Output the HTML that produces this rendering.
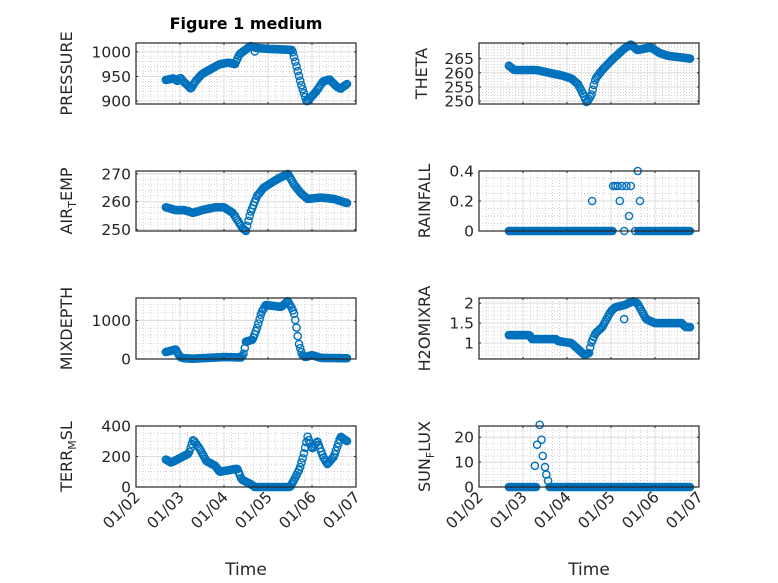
<!DOCTYPE html>
<html><head><meta charset="utf-8"><style>
html,body{margin:0;padding:0;background:#fff;}
svg{display:block;font-family:"DejaVu Sans","Liberation Sans",sans-serif;}
</style></head><body>
<svg id="s" width="778" height="583" xmlns="http://www.w3.org/2000/svg"></svg>
<script>
const S=document.getElementById('s');let h='';
const T='#262626';
function lin(k,x){for(let i=0;i<k.length-1;i++){if(x>=k[i][0]&&x<=k[i+1][0]){const t=(x-k[i][0])/(k[i+1][0]-k[i][0]);return k[i][1]+t*(k[i+1][1]-k[i][1]);}}return null;}
function plot(o){
 const L=o.x,R=o.x+220,Tp=o.y,B=o.y+(o.h||61),W=R-L,H=B-Tp;
 const sx=d=>L+d/5*W, sy=v=>B-(v-o.lo)/(o.hi-o.lo)*H;
 for(let d=0;d<5;d++)for(let j=1;j<6;j++){const X=sx(d+j/6);h+=`<line x1="${X}" y1="${Tp}" x2="${X}" y2="${B}" stroke="#c0c0c0" stroke-width="0.7" stroke-dasharray="1,2"/>`;}
 const ms=o.minor;for(let v=Math.ceil(o.lo/ms)*ms;v<o.hi;v+=ms){const Y=sy(v);h+=`<line x1="${L}" y1="${Y}" x2="${R}" y2="${Y}" stroke="#c0c0c0" stroke-width="0.7" stroke-dasharray="1,2"/>`;}
 for(let d=1;d<5;d++){const X=sx(d);h+=`<line x1="${X}" y1="${Tp}" x2="${X}" y2="${B}" stroke="#dcdcdc" stroke-width="1"/>`;}
 o.ticks.forEach(v=>{const Y=sy(v);h+=`<line x1="${L}" y1="${Y}" x2="${R}" y2="${Y}" stroke="#dcdcdc" stroke-width="1"/>`;});
 let pts=[];
 if(o.k){for(let d=0.68;d<=4.8;d+=0.028){const v=lin(o.k,d);if(v!==null)pts.push([d,v]);}}
 if(o.extra)pts=pts.concat(o.extra);
 pts.forEach(p=>{h+=`<circle cx="${sx(p[0]).toFixed(1)}" cy="${sy(p[1]).toFixed(1)}" r="3.6" fill="none" stroke="#0072BD" stroke-width="1.4"/>`;});
 h+=`<rect x="${L}" y="${Tp}" width="${W}" height="${H}" fill="none" stroke="${T}" stroke-width="1.2"/>`;
 for(let d=1;d<5;d++){const X=sx(d);h+=`<line x1="${X}" y1="${B}" x2="${X}" y2="${B-2}" stroke="${T}"/><line x1="${X}" y1="${Tp}" x2="${X}" y2="${Tp+2}" stroke="${T}"/>`;}
 o.ticks.forEach((v,i)=>{const Y=sy(v);h+=`<line x1="${L}" y1="${Y}" x2="${L+2}" y2="${Y}" stroke="${T}"/><line x1="${R}" y1="${Y}" x2="${R-2}" y2="${Y}" stroke="${T}"/>`;
  h+=`<text x="${L-5}" y="${Y+5.5}" font-size="15.5" fill="${T}" text-anchor="end">${o.tl?o.tl[i]:v}</text>`;});
 h+=`<text transform="translate(${o.lx},${(Tp+B)/2}) rotate(-90)" font-size="16" fill="${T}" text-anchor="middle">${o.label}</text>`;
 if(o.xl){const labs=['01/02','01/03','01/04','01/05','01/06','01/07'];labs.forEach((s,i)=>{const X=sx(i);h+=`<text transform="translate(${X+5},${B+11}) rotate(-45)" font-size="15.5" fill="${T}" text-anchor="end">${s}</text>`;});
  h+=`<text x="${(L+R)/2}" y="${B+88}" font-size="17" fill="${T}" text-anchor="middle">Time</text>`;}
}
const sub=(a,b,c)=>`${a}<tspan font-size="11" dy="4">${b}</tspan><tspan dy="-4">${c}</tspan>`;
const LX=136,RX=479,Y1=43,Y2=171,Y3=298,Y4=426;
plot({x:LX,y:Y1,lo:894,hi:1018,ticks:[900,950,1000],minor:10,label:'PRESSURE',lx:72,
k:[[0.68,943],[0.85,946],[0.95,940],[1.0,948],[1.1,938],[1.25,925],[1.35,940],[1.5,955],[1.7,965],[1.9,975],[2.1,978],[2.25,975],[2.35,995],[2.5,1005],[2.6,1012],[2.75,1008],[3.0,1006],[3.3,1005],[3.55,1004],[3.65,970],[3.75,935],[3.88,898],[4.0,910],[4.1,920],[4.25,940],[4.4,944],[4.55,930],[4.65,925],[4.8,935]],extra:[[2.7,1001]]});
plot({x:LX,y:Y2,h:60,lo:249.5,hi:271,ticks:[250,260,270],minor:2,label:sub('AIR','T','EMP'),lx:72,
k:[[0.68,258],[0.9,257],[1.1,257],[1.3,256],[1.5,257],[1.8,258],[2.0,258],[2.2,256],[2.32,253],[2.42,250.5],[2.5,249.5],[2.6,256],[2.75,262],[2.9,265],[3.2,268],[3.45,270],[3.6,266],[3.75,263],[3.9,261],[4.2,261.5],[4.5,261],[4.8,259.5]]});
plot({x:LX,y:Y3,lo:0,hi:1580,ticks:[0,1000],minor:200,label:'MIXDEPTH',lx:72,
k:[[0.68,180],[0.9,250],[1.0,50],[1.1,20],[1.3,10],[2.0,50],[2.4,40],[2.45,150],[2.5,450],[2.65,500],[2.75,800],[2.85,1200],[2.95,1400],[3.3,1350],[3.45,1500],[3.55,1300],[3.6,1150],[3.65,800],[3.7,400],[3.78,100],[3.85,50],[4.0,100],[4.2,30],[4.8,20]]});
plot({x:LX,y:Y4,lo:0,hi:400,ticks:[0,200,400],minor:50,label:sub('TERR','M','SL'),lx:72,xl:true,
k:[[0.68,180],[0.8,160],[1.0,190],[1.2,220],[1.3,310],[1.45,250],[1.6,170],[1.8,140],[1.9,100],[2.1,110],[2.3,120],[2.4,50],[2.6,20],[2.7,0],[3.5,0],[3.6,50],[3.72,120],[3.8,200],[3.9,330],[4.0,250],[4.12,300],[4.25,200],[4.35,150],[4.5,200],[4.65,330],[4.8,300]]});
plot({x:RX,y:Y1,lo:249,hi:270.5,ticks:[250,255,260,265],minor:1,label:'THETA',lx:427,
k:[[0.68,262.5],[0.8,261],[1.0,261],[1.3,261],[1.6,260],[1.9,259],[2.1,258],[2.25,256],[2.35,253],[2.45,249.5],[2.55,252],[2.65,258],[2.8,261],[3.05,265],[3.3,268.5],[3.45,270],[3.6,268],[3.9,269],[4.1,267],[4.3,266],[4.8,265]]});
let rz=[];for(let d=0.68;d<=4.8;d+=0.028){if(d<3.05||d>3.6)rz.push([d,0]);}
rz=rz.concat([[2.57,0.2],[3.05,0.3],[3.1,0.3],[3.15,0.3],[3.25,0.3],[3.35,0.3],[3.45,0.3],[3.2,0.2],[3.41,0.1],[3.61,0.4],[3.66,0.2],[3.3,0],[3.55,0]]);
plot({x:RX,y:Y2,h:60,lo:0,hi:0.4,ticks:[0,0.2,0.4],minor:0.05,label:'RAINFALL',lx:430,extra:rz});
plot({x:RX,y:Y3,lo:0.6,hi:2.13,ticks:[1,1.5,2],minor:0.1,label:'H2OMIXRA',lx:430,
k:[[0.68,1.2],[1.15,1.2],[1.2,1.1],[1.75,1.1],[1.8,1.05],[2.1,1.0],[2.25,0.85],[2.4,0.7],[2.5,0.75],[2.55,1.0],[2.65,1.25],[2.8,1.4],[3.0,1.8],[3.1,1.9],[3.3,1.95],[3.5,2.05],[3.6,2.0],[3.8,1.6],[4.0,1.5],[4.6,1.5],[4.7,1.4],[4.8,1.4]],extra:[[3.3,1.6]]});
let sz=[];for(let d=0.68;d<=4.8;d+=0.028){if(d<1.3||d>1.6)sz.push([d,0]);}
sz=sz.concat([[1.27,8.5],[1.32,17],[1.38,25],[1.42,19],[1.45,12.5],[1.5,8],[1.53,5],[1.57,2.5]]);
plot({x:RX,y:Y4,lo:0,hi:24.5,ticks:[0,10,20],minor:2.5,label:sub('SUN','F','LUX'),lx:430,xl:true,extra:sz});
h+=`<text x="246" y="29" font-size="16" font-weight="bold" fill="#000" text-anchor="middle">Figure 1 medium</text>`;
S.innerHTML=h;
</script>
</body></html>
